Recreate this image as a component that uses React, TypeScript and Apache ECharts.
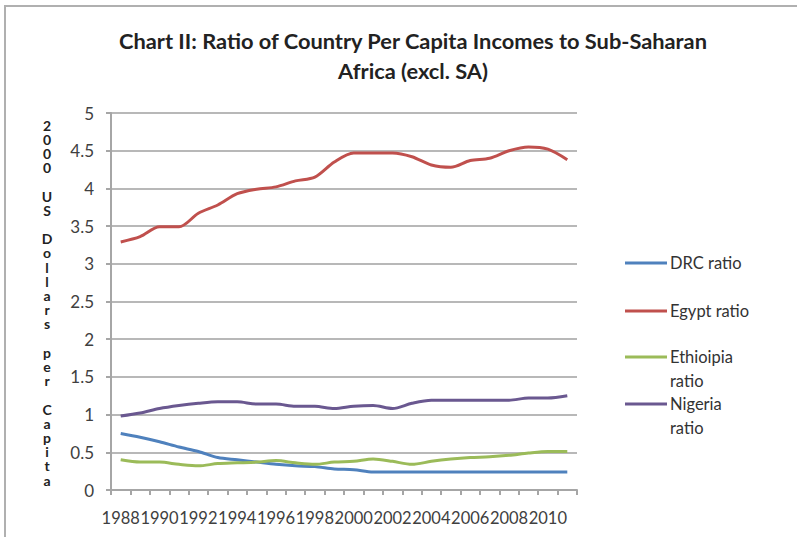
import React, { useEffect, useRef } from "react";
import * as echarts from "echarts";

const years = ["1988","1989","1990","1991","1992","1993","1994","1995","1996","1997","1998","1999","2000","2001","2002","2003","2004","2005","2006","2007","2008","2009","2010","2011"];
const drc = [0.75,0.70,0.64,0.57,0.51,0.43,0.40,0.37,0.34,0.32,0.31,0.28,0.27,0.24,0.24,0.24,0.24,0.24,0.24,0.24,0.24,0.24,0.24,0.24];
const egypt = [3.29,3.36,3.49,3.49,3.67,3.78,3.93,3.99,4.02,4.10,4.15,4.35,4.47,4.47,4.47,4.42,4.31,4.28,4.37,4.40,4.50,4.55,4.52,4.38];
const ethiopia = [0.40,0.37,0.37,0.34,0.32,0.35,0.36,0.37,0.39,0.36,0.34,0.37,0.38,0.41,0.38,0.34,0.38,0.41,0.43,0.44,0.46,0.49,0.51,0.51];
const nigeria = [0.98,1.02,1.08,1.12,1.15,1.17,1.17,1.14,1.14,1.11,1.11,1.08,1.11,1.12,1.08,1.15,1.19,1.19,1.19,1.19,1.19,1.22,1.22,1.25];

const seriesNames = ["DRC ratio", "Egypt ratio", "Ethioipia ratio", "Nigeria ratio"];
const seriesColors = ["#4F81BD", "#C0504D", "#9BBB59", "#6A5890"];
const seriesData = [drc, egypt, ethiopia, nigeria];
const yAxisTitle = "2000 US Dollars per Capita";

const FONT = "Lato, 'Liberation Sans', sans-serif";

export default function App() {
  const ref = useRef<HTMLDivElement>(null);
  useEffect(() => {
    if (!ref.current) return;
    const chart = echarts.init(ref.current, null, { renderer: "svg" });
    const legendTops = [246, 294, 340, 387];
    const legends = seriesNames.map((n, i) => {
      const twoLine = i >= 2;
      return {
        data: [n],
        left: 620,
        top: legendTops[i],
        orient: "vertical",
        icon: twoLine ? "path://M0,0L0,0M0,10.5H42V13.5H0ZM0,48L0,48" : "rect",
        itemWidth: 42,
        itemHeight: twoLine ? 48 : 3,
        itemGap: 0,
        selectedMode: false,
        formatter: (name: string) => (twoLine ? name.replace(" ", "\n") : name),
        textStyle: {
          fontFamily: FONT,
          fontSize: 16.5,
          color: "#333",
          lineHeight: 24,
          padding: [0, 0, 0, -2],
        },
      };
    });
    chart.setOption({
      animation: false,
      backgroundColor: "#fff",
      title: {
        text: "Chart II: Ratio of Country Per Capita Incomes to Sub-Saharan\nAfrica (excl. SA)",
        left: 408,
        textAlign: "center",
        top: 20,
        textStyle: {
          fontFamily: FONT,
          fontWeight: "bold",
          fontSize: 21.8,
          lineHeight: 30,
          color: "#222",
        },
      },
      legend: legends,
      grid: { left: 111, right: 220, top: 113, bottom: 47 },
      xAxis: {
        type: "category",
        data: years,
        boundaryGap: true,
        axisLine: { lineStyle: { color: "#a6a6a6", width: 2 } },
        axisTick: { show: true, interval: 0, length: 5, lineStyle: { color: "#a6a6a6", width: 2 } },
        axisLabel: {
          interval: 1,
          showMinLabel: true,
          hideOverlap: false,
          fontFamily: FONT,
          fontSize: 16.5,
          color: "#404040",
          margin: 19,
        },
        splitLine: { show: false },
      },
      yAxis: {
        type: "value",
        min: 0,
        max: 5,
        interval: 0.5,
        axisLine: { show: true, lineStyle: { color: "#a6a6a6", width: 2 } },
        axisTick: { show: true, length: 5, lineStyle: { color: "#a6a6a6", width: 2 } },
        axisLabel: {
          fontFamily: FONT,
          fontSize: 17,
          color: "#404040",
          margin: 17,
        },
        splitLine: { show: true, lineStyle: { color: "#b8b8b8", width: 2 } },
      },
      graphic: [
        {
          type: "rect",
          shape: { x: 5, y: 6, width: 900, height: 700 },
          style: { fill: "none", stroke: "#b0b0b0", lineWidth: 2 },
          silent: true,
        },
        {
          type: "text",
          x: 47,
          y: 118,
          style: {
            text: yAxisTitle.split("").join("\n"),
            fontFamily: FONT,
            fontWeight: "bold",
            fontSize: 14,
            lineHeight: 14.2,
            fill: "#222",
            align: "center",
            verticalAlign: "top",
          },
        },
      ],
      series: seriesNames.map((n, i) => ({
        name: n,
        type: "line",
        data: seriesData[i],
        smooth: 0.3,
        symbol: "none",
        lineStyle: { width: 3, color: seriesColors[i] },
        itemStyle: { color: seriesColors[i] },
      })),
    });
    return () => chart.dispose();
  }, []);
  return <div ref={ref} style={{ width: 797, height: 537, position: "absolute", left: 0, top: 0 }} />;
}
